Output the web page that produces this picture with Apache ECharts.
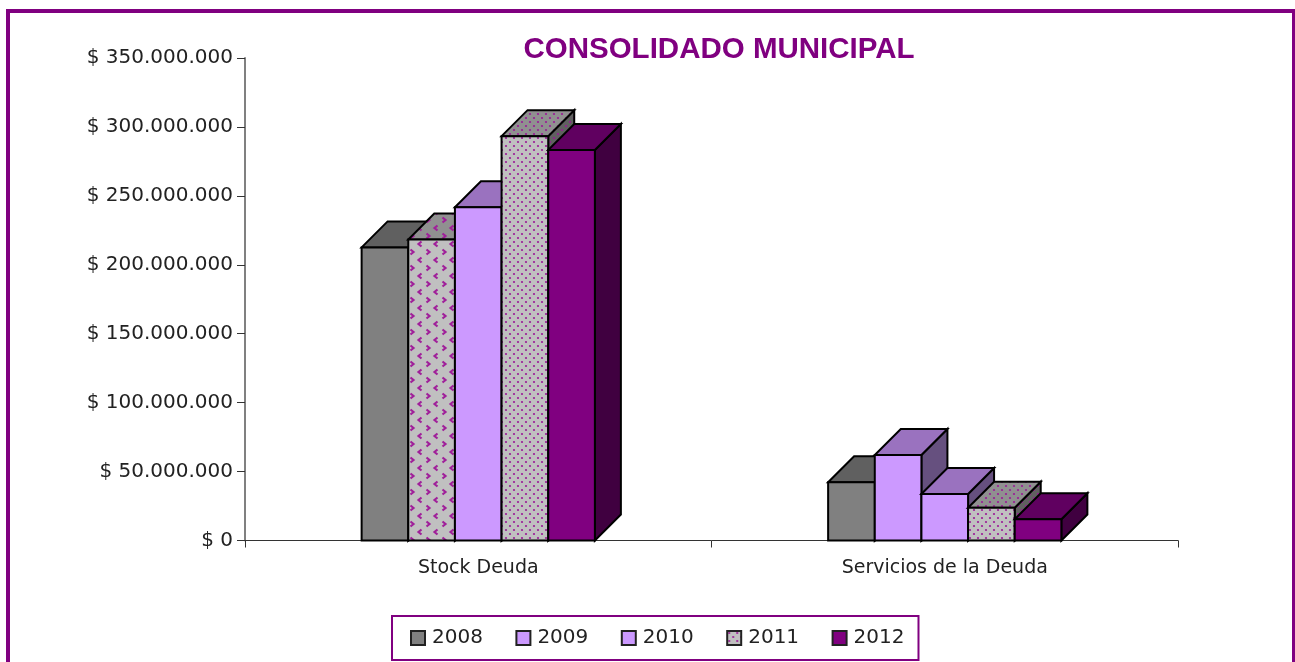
<!DOCTYPE html>
<html lang="es">
<head>
    <meta charset="UTF-8">
    <title>Consolidado Municipal</title>
    <script src="https://cdn.jsdelivr.net/npm/echarts@6/dist/echarts.min.js"></script>
    <style>
        html, body { margin: 0; padding: 0; background: #fff; }
        #main { width: 1295px; height: 662px; }
    </style>
</head>
<body>
<div id="main"></div>
<script>
    // valores
    var categories = ['Stock Deuda', 'Servicios de la Deuda'];
    var years = ['2008', '2009', '2010', '2011', '2012'];
    var v2008 = [212600000, 42200000];
    var v2009 = [218400000, 62000000];
    var v2010 = [241700000, 33700000];
    var v2011 = [293300000, 23800000];
    var v2012 = [283300000, 15400000];
    var seriesValues = [v2008, v2009, v2010, v2011, v2012];

    var DEPTH = 26;
    var INK = '#800080';

    // trama de puntos
    function dotPattern(bg) {
        var c = document.createElement('canvas');
        c.width = 8; c.height = 8;
        var g = c.getContext('2d');
        g.fillStyle = bg;
        g.fillRect(0, 0, 8, 8);
        g.fillStyle = '#9a1a96';
        [[2, 2], [6, 6]].forEach(function (p) {
            g.beginPath();
            g.arc(p[0], p[1], 1.1, 0, Math.PI * 2);
            g.fill();
        });
        return { image: c, repeat: 'repeat' };
    }

    // trama de flechitas < >
    function chevronPattern(bg) {
        var c = document.createElement('canvas');
        c.width = 16; c.height = 16;
        var g = c.getContext('2d');
        g.fillStyle = bg;
        g.fillRect(0, 0, 16, 16);
        g.strokeStyle = '#a0209a';
        g.lineWidth = 2.2;
        function mark(x, y, dir) {
            g.beginPath();
            g.moveTo(x + 1.5 * dir, y - 2.5);
            g.lineTo(x - 1.5 * dir, y);
            g.lineTo(x + 1.5 * dir, y + 2.5);
            g.stroke();
        }
        mark(4, 4, 1);
        mark(12, 12, -1);
        return { image: c, repeat: 'repeat' };
    }

    var gray = { front: '#808080', top: '#606060', side: '#4a4a4a' };
    var lilac = { front: '#cc99ff', top: '#9a72bf', side: '#66507f' };
    var purple = { front: '#800080', top: '#600060', side: '#400040' };
    var dots = { front: dotPattern('#c0c0c0'), top: dotPattern('#909090'), side: dotPattern('#606060') };
    var chevrons = { front: chevronPattern('#c0c0c0'), top: chevronPattern('#909090'), side: chevronPattern('#606060') };

    // colores por serie y categoria
    var faces = [
        [gray, gray],
        [chevrons, lilac],
        [lilac, lilac],
        [dots, dots],
        [purple, purple]
    ];
    var legendColors = [gray.front, lilac.front, lilac.front, dots.front, purple.front];

    function renderBar(params, api) {
        var cat = api.value(0);
        var top = api.coord([cat, api.value(1)]);
        var base = api.coord([cat, 0]);
        var w = api.size([1, 0])[0] * 0.5 / years.length;
        var x0 = top[0] + (params.seriesIndex - years.length / 2) * w;
        var x1 = x0 + w;
        var d = DEPTH;
        var f = faces[params.seriesIndex][cat];
        function face(points, fill) {
            return {
                type: 'polygon',
                shape: { points: points },
                style: { fill: fill, stroke: '#000', lineWidth: 2, lineJoin: 'miter' }
            };
        }
        return {
            type: 'group',
            children: [
                face([[x1, base[1]], [x1 + d, base[1] - d], [x1 + d, top[1] - d], [x1, top[1]]], f.side),
                face([[x0, top[1]], [x0 + d, top[1] - d], [x1 + d, top[1] - d], [x1, top[1]]], f.top),
                face([[x0, base[1]], [x0, top[1]], [x1, top[1]], [x1, base[1]]], f.front)
            ]
        };
    }

    var myChart = echarts.init(document.getElementById('main'), null, { renderer: 'canvas' });

    var option = {
        backgroundColor: '#fff',
        animation: false,
        textStyle: { fontFamily: 'DejaVu Sans', color: '#222' },
        title: {
            text: 'CONSOLIDADO MUNICIPAL',
            left: 714,
            top: 30,
            textAlign: 'center',
            textStyle: { fontFamily: 'Liberation Sans', fontWeight: 'bold', fontSize: 29.5, color: INK }
        },
        legend: {
            data: years.map(function (y, i) {
                return { name: y, icon: 'rect', itemStyle: { color: legendColors[i], borderColor: '#222', borderWidth: 2 } };
            }),
            left: 392,
            top: 616,
            padding: [12, 14, 12, 18],
            itemWidth: 14,
            itemHeight: 14,
            itemGap: 32.5,
            borderColor: INK,
            borderWidth: 2,
            selectedMode: false,
            textStyle: { fontFamily: 'DejaVu Sans', fontSize: 20, color: '#222', padding: [0, 0, 0, 2] }
        },
        grid: { left: 245, right: 117, top: 58, bottom: 121.5 },
        xAxis: {
            type: 'category',
            data: categories,
            axisLine: { lineStyle: { color: '#333', width: 1 } },
            axisTick: { show: true, length: 7, lineStyle: { color: '#333' } },
            axisLabel: { margin: 18, fontFamily: 'DejaVu Sans', fontSize: 19, color: '#222' }
        },
        yAxis: {
            type: 'value',
            min: 0,
            max: 350000000,
            interval: 50000000,
            axisLine: { show: true, lineStyle: { color: '#808080', width: 2 } },
            axisTick: { show: true, length: 8, lineStyle: { color: '#333' } },
            splitLine: { show: false },
            axisLabel: {
                margin: 12,
                fontFamily: 'DejaVu Sans',
                fontSize: 20,
                color: '#222',
                formatter: function (v) {
                    return '$ ' + String(v).replace(/\B(?=(\d{3})+$)/g, '.');
                }
            }
        },
        // marco exterior
        graphic: [{
            type: 'rect',
            silent: true,
            z: -1,
            shape: { x: 8, y: 11, width: 1286, height: 680 },
            style: { fill: 'none', stroke: INK, lineWidth: 4 }
        }],
        series: years.map(function (y, i) {
            return {
                name: y,
                type: 'custom',
                coordinateSystem: 'cartesian2d',
                renderItem: renderBar,
                encode: { x: 0, y: 1 },
                clip: false,
                data: seriesValues[i].map(function (v, c) { return [c, v]; })
            };
        })
    };

    myChart.setOption(option);
</script>
</body>
</html>
